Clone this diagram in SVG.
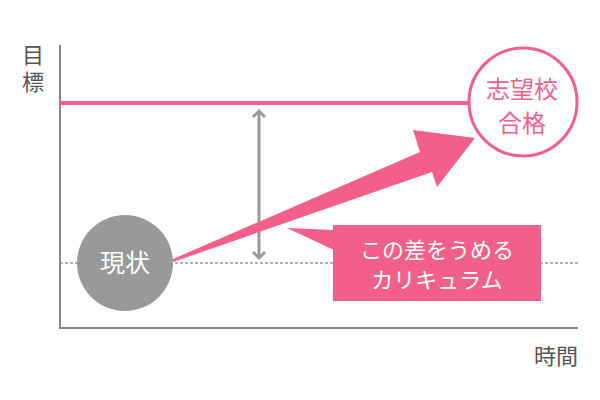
<svg xmlns="http://www.w3.org/2000/svg" width="600" height="400" viewBox="0 0 600 400">
<style>
.lbl{font-family:"Noto Sans CJK JP","Noto Sans",sans-serif;fill:#555;font-size:22px}
.w{font-family:"Noto Sans CJK JP","Noto Sans",sans-serif;fill:#fff;text-anchor:middle}
.p{font-family:"Noto Sans CJK JP","Noto Sans",sans-serif;fill:#f35f8b;text-anchor:middle;font-size:24px}
.gray{stroke:#999;stroke-width:3;fill:none}
</style>
<rect width="600" height="400" fill="#fff"/>
<g id="axes">
<line x1="60" y1="45" x2="60" y2="328" stroke="#888" stroke-width="2"/>
<line x1="59" y1="328" x2="578" y2="328" stroke="#888" stroke-width="2"/>
<text class="lbl" x="33" y="44" writing-mode="vertical-rl" letter-spacing="5">目標</text>
<text class="lbl" x="578" y="364" text-anchor="end" font-size="24">時間</text>
</g>
<g id="connectors">
<line x1="60" y1="263" x2="578" y2="263" stroke="#999" stroke-width="1.5" stroke-dasharray="3 2"/>
<line x1="60" y1="103" x2="470" y2="103" stroke="#f35f8b" stroke-width="4"/>
<line class="gray" x1="259" y1="111" x2="259" y2="258"/>
<polyline class="gray" points="253,117 259,111 265,117"/>
<polyline class="gray" points="253,252 259,258 265,252"/>
<polygon fill="#f35f8b" points="173,259 420,152 413,130 475,138 437,187 432,172 173,262"/>
</g>
<g id="current">
<circle cx="125" cy="263" r="48" fill="#999"/>
<text class="w" x="125" y="272" font-size="25">現状</text>
</g>
<g id="goal">
<circle cx="523" cy="102" r="54" fill="#fff" stroke="#f35f8b" stroke-width="3"/>
<text class="p" x="522" y="98">志望校</text>
<text class="p" x="522" y="132">合格</text>
</g>
<g id="callout">
<polygon fill="#f35f8b" points="287,228 334,230 334,250"/>
<rect x="333" y="225" width="208" height="76" fill="#f35f8b"/>
<text class="w" x="437" y="258" font-size="22">この差をうめる</text>
<text class="w" x="437" y="288" font-size="22">カリキュラム</text>
</g>
</svg>
